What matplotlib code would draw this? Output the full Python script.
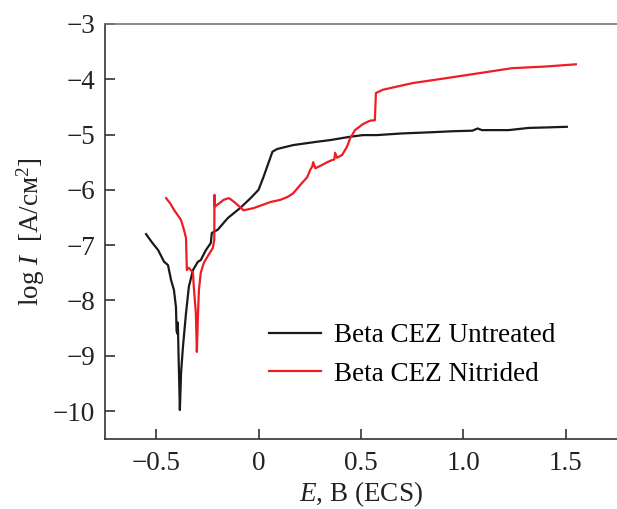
import matplotlib
matplotlib.use("Agg")
import matplotlib.pyplot as plt

plt.rcParams['font.family'] = ['Liberation Serif', 'DejaVu Serif']
plt.rcParams['mathtext.fontset'] = 'custom'
plt.rcParams['mathtext.rm'] = 'Liberation Serif'
plt.rcParams['mathtext.it'] = 'Liberation Serif:italic'

# Beta CEZ untreated (black)
e_untreated = [-0.549, -0.52, -0.49, -0.461, -0.442, -0.427, -0.413, -0.403, -0.400,
               -0.396, -0.394, -0.384, -0.378, -0.369, -0.354, -0.34, -0.32, -0.296,
               -0.282, -0.257, -0.233, -0.228, -0.199, -0.15, -0.087, -0.039, 0.0,
               0.024, 0.068, 0.092, 0.17, 0.286, 0.35, 0.447, 0.51, 0.578, 0.7,
               0.835, 0.95, 1.044, 1.07, 1.09, 1.22, 1.32, 1.42, 1.505]
logi_untreated = [-6.80, -6.95, -7.09, -7.30, -7.36, -7.63, -7.81, -8.12, -8.55,
                  -8.60, -8.40, -9.98, -9.30, -8.84, -8.23, -7.75, -7.45, -7.30,
                  -7.27, -7.09, -6.96, -6.78, -6.72, -6.51, -6.32, -6.15, -6.00,
                  -5.77, -5.31, -5.26, -5.19, -5.13, -5.10, -5.04, -5.01, -5.01, -4.98,
                  -4.96, -4.94, -4.93, -4.89, -4.92, -4.92, -4.88, -4.87, -4.86]

# Beta CEZ nitrided (red)
e_nitrided = [-0.451, -0.43, -0.413, -0.379, -0.364, -0.354, -0.350, -0.345, -0.34,
              -0.32, -0.316, -0.306, -0.301, -0.296, -0.291, -0.282, -0.267, -0.248,
              -0.223, -0.216, -0.215, -0.213, -0.19, -0.17, -0.146, -0.136, -0.112,
              -0.073, -0.024, 0.058, 0.107, 0.141, 0.17, 0.204, 0.238, 0.252, 0.262,
              0.267, 0.277, 0.31, 0.335, 0.36, 0.37, 0.374, 0.383, 0.408, 0.432,
              0.447, 0.471, 0.51, 0.544, 0.568, 0.573, 0.607, 0.752, 0.917, 1.078,
              1.238, 1.403, 1.549]
logi_nitrided = [-6.15, -6.25, -6.36, -6.54, -6.72, -6.87, -7.45, -7.42, -7.41,
                 -7.50, -7.75, -8.23, -8.93, -8.30, -7.81, -7.50, -7.32, -7.20,
                 -7.05, -6.90, -6.09, -6.30, -6.24, -6.18, -6.15, -6.17, -6.24,
                 -6.37, -6.33, -6.22, -6.18, -6.13, -6.06, -5.91, -5.77, -5.64, -5.58,
                 -5.50, -5.61, -5.55, -5.50, -5.46, -5.45, -5.33, -5.42, -5.37, -5.22,
                 -5.07, -4.92, -4.81, -4.75, -4.74, -4.25, -4.19, -4.07, -3.98, -3.89,
                 -3.80, -3.77, -3.73]

labels = ["Beta CEZ Untreated", "Beta CEZ Nitrided"]
fs = 19.5

fig = plt.figure(figsize=(6.17, 5.09), dpi=100)
ax = fig.add_axes([0.170, 0.138, 0.830, 0.815])

ax.plot(e_untreated, logi_untreated, color="#1a1a1a", lw=1.6, label=labels[0])
ax.plot(e_nitrided, logi_nitrided, color="#ee1c24", lw=1.6, label=labels[1])

ax.set_xlim(-0.75, 1.75)
ax.set_ylim(-10.5, -3)
ax.set_xticks([-0.5, 0, 0.5, 1.0, 1.5])
ax.set_xticklabels(["\u22120.5", "0", "0.5", "1.0", "1.5"])
ax.set_yticks(range(-10, -2))
ax.set_yticklabels(["\u2212%d" % -v for v in range(-10, -2)])

ax.tick_params(direction="in", length=7, width=1.1, labelsize=fs,
               colors="#222222")
ax.tick_params(axis="y", pad=7)
ax.tick_params(axis="x", pad=9)
ax.spines["right"].set_visible(False)
ax.spines["top"].set_color("#777777")
for s in ("left", "bottom"):
    ax.spines[s].set_color("#333333")
for s in ax.spines.values():
    s.set_linewidth(1.2)

ax.set_ylabel("log $I$  [A/cм$^2$]", fontsize=fs, color="#222222", labelpad=4)
ax.set_xlabel("$E$, В (ECS)", fontsize=fs, color="#222222", labelpad=2)

ax.legend(loc="upper left", bbox_to_anchor=(0.30, 0.305), frameon=False,
          fontsize=fs, handlelength=1.92, handletextpad=0.48, labelspacing=0.5,
          borderaxespad=0)

fig.savefig("out.png", dpi=100)
